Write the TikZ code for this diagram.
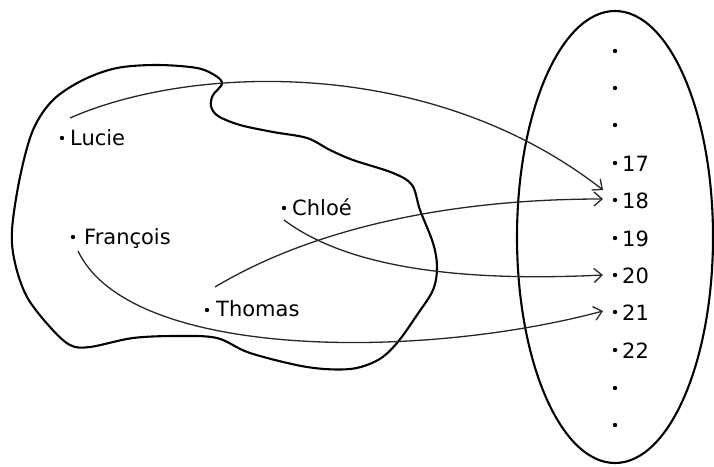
\documentclass[tikz,border=0pt]{standalone}
\usepackage{fontspec}
\setmainfont{DejaVu Sans}
\usetikzlibrary{arrows.meta}
\begin{document}
\begin{tikzpicture}[x=1pt,y=-1pt,
  lab/.style={anchor=base west,inner sep=0pt,font=\fontsize{21}{25}\selectfont},
  pt/.style={circle,fill=black,inner sep=0pt,minimum size=4.4pt},
  outline/.style={line width=2.1pt,black},
  arr/.style={line width=1.3pt,draw=black!85,-{Straight Barb[length=8pt,width=14pt,line width=1.3pt]}}]
\useasboundingbox (0,0) rectangle (714,466);
% left blob
\draw[outline] plot[smooth cycle,tension=0.55] coordinates {
 (12,230) (20,177) (33,130) (53,100) (83,80) (117,68) (157,65) (197,68)
 (216,76) (222,84) (213,95) (211,106) (218,116) (240,125) (273,132) (307,138)
 (330,150) (353,160) (393,173) (412,185) (420,210) (433,243) (437,267)
 (433,290) (417,315) (397,343) (378,360) (350,369) (307,367) (250,353)
 (217,338) (177,336) (133,338) (90,347) (70,345) (50,327) (27,297) (15,263)};
% right ellipse
\draw[outline] (615,237) ellipse [x radius=98pt, y radius=226pt];
% left elements
\node[pt] (dl) at (62,138) {};
\node[lab] (lucie) at (70,145) {Lucie};
\node[pt] (df) at (73,237) {};
\node[lab] (francois) at (84,244) {François};
\node[pt] (dc) at (284,208) {};
\node[lab] (chloe) at (292,215) {Chloé};
\node[pt] (dt) at (207,310) {};
\node[lab] (thomas) at (216,316) {Thomas};
% right elements
\node[pt] (e1) at (615,51) {};
\node[pt] (e2) at (615,88) {};
\node[pt] (e3) at (615,125) {};
\node[pt] (d17) at (615,163) {};
\node[lab] (n17) at (622,171) {17};
\node[pt] (d18) at (615,200) {};
\node[lab] (n18) at (622,208) {18};
\node[pt] (d19) at (615,238) {};
\node[lab] (n19) at (622,246) {19};
\node[pt] (d20) at (615,275) {};
\node[lab] (n20) at (622,283) {20};
\node[pt] (d21) at (615,312) {};
\node[lab] (n21) at (622,320) {21};
\node[pt] (d22) at (615,350) {};
\node[lab] (n22) at (622,358) {22};
\node[pt] (e4) at (615,388) {};
\node[pt] (e5) at (615,425) {};
% arrow ends
\coordinate (sl) at (70,118);
\coordinate (st) at (215,287);
\coordinate (sc) at (284,220);
\coordinate (sf) at (78,251);
\coordinate (tl) at (603,190);
\coordinate (tt) at (603,199);
\coordinate (tc) at (603,275);
\coordinate (tf) at (603,311);
% arrows
\draw[arr] (sl) .. controls (190,65) and (430,55) .. (tl);
\draw[arr] (st) .. controls (310,230) and (445,199) .. (tt);
\draw[arr] (sc) .. controls (340,262) and (440,283) .. (tc);
\draw[arr] (sf) .. controls (130,360) and (420,360) .. (tf);
\end{tikzpicture}
\end{document}
